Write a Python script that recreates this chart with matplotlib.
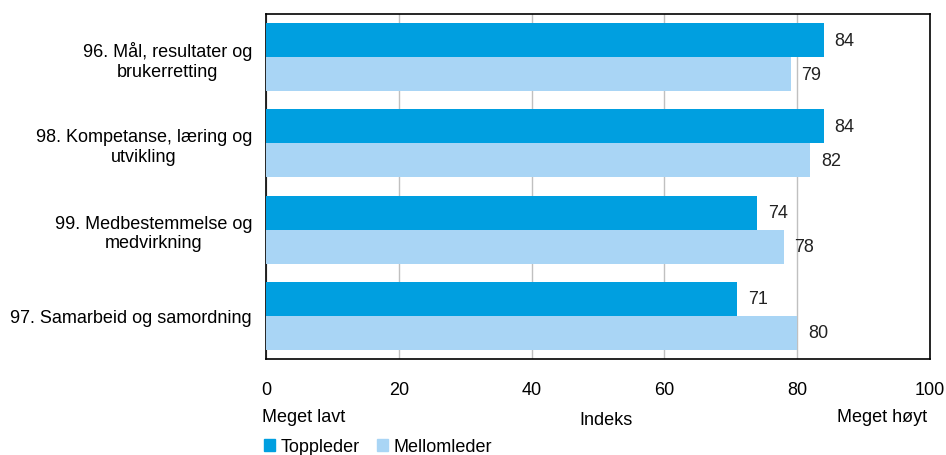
import matplotlib.pyplot as plt
import numpy as np
from matplotlib.patches import Patch

plt.rcParams['font.family'] = ['Liberation Sans', 'DejaVu Sans']

categories = ["96. Mål, resultater og\nbrukerretting",
              "98. Kompetanse, læring og\nutvikling",
              "99. Medbestemmelse og\nmedvirkning",
              "97. Samarbeid og samordning"]
toppleder = [84, 84, 74, 71]
mellomleder = [79, 82, 78, 80]
xticks = [0, 20, 40, 60, 80, 100]

c_top = "#009FE0"
c_mel = "#A9D5F5"
fs = 13

fig = plt.figure(figsize=(9.46, 4.56), dpi=100)
ax = fig.add_axes([266 / 946, 1 - 360 / 456, 664 / 946, 345 / 456])

y = np.arange(len(categories))
h = 0.395
b1 = ax.barh(y - h / 2, toppleder, height=h, color=c_top, zorder=3)
b2 = ax.barh(y + h / 2, mellomleder, height=h, color=c_mel, zorder=3)
for bars in (b1, b2):
    for b in bars:
        ax.text(b.get_width() + 1.6, b.get_y() + b.get_height() / 2, f"{b.get_width():.0f}",
                va="center", ha="left", fontsize=fs, color="#222222")

ax.set_xlim(0, 100)
ax.set_ylim(len(categories) - 0.5, -0.5)
ax.set_yticks(y)
ax.set_yticklabels(categories, fontsize=fs, ha="right", multialignment="center")
ax.tick_params(axis="y", length=0, pad=10)
ax.set_xticks(xticks)
ax.set_xticklabels([str(t) for t in xticks], fontsize=fs)
ax.tick_params(axis="x", length=0, pad=16)
ax.grid(axis="x", color="#C0C0C0", linewidth=1, zorder=0)
for s in ax.spines.values():
    s.set_linewidth(1.2)
    s.set_color("black")

fig.text(262 / 946, 1 - 418 / 456, "Meget lavt", fontsize=fs, ha="left", va="center")
fig.text(606 / 946, 1 - 421 / 456, "Indeks", fontsize=fs, ha="center", va="center")
fig.text(927 / 946, 1 - 418 / 456, "Meget høyt", fontsize=fs, ha="right", va="center")

handles = [Patch(color=c_top, label="Toppleder"), Patch(color=c_mel, label="Mellomleder")]
fig.legend(handles=handles, loc="center left", bbox_to_anchor=(264 / 946, 1 - 448 / 456),
           ncol=2, frameon=False, fontsize=fs, handlelength=0.6, handleheight=0.6,
           handletextpad=0.3, columnspacing=1.0, borderaxespad=0, borderpad=0)

fig.savefig("out.png", dpi=100)
